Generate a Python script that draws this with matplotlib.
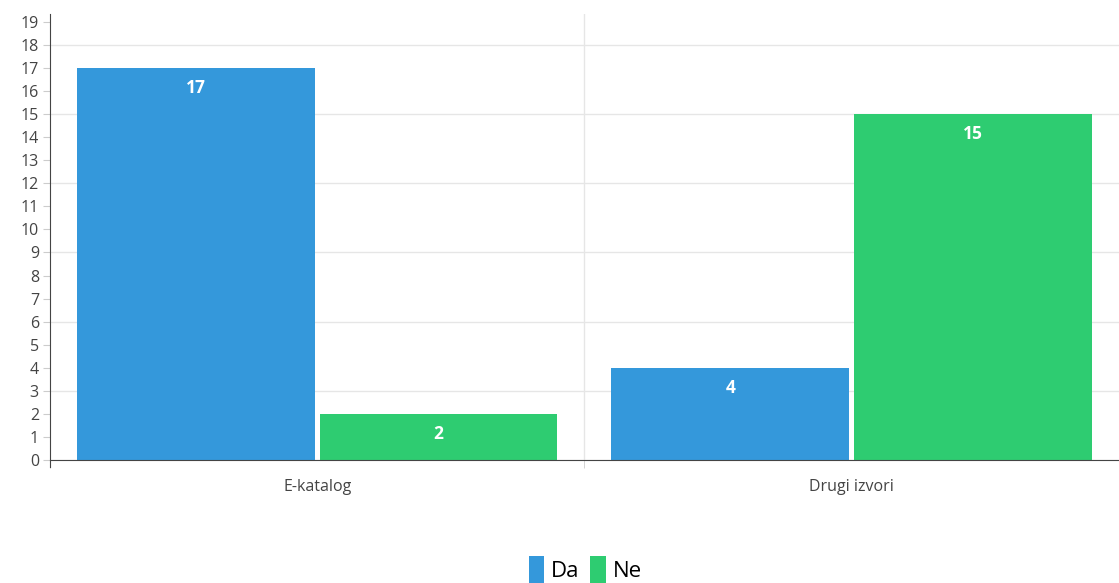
import matplotlib.pyplot as plt
import numpy as np

categories = ["E-katalog", "Drugi izvori"]
da_values = [17, 4]
ne_values = [2, 15]
series_names = ["Da", "Ne"]
y_ticks = list(range(0, 20))

plt.rcParams['font.family'] = ['Open Sans', 'DejaVu Sans']

fig = plt.figure(figsize=(11.19, 5.83), dpi=100)
ax = fig.add_axes([0.0447, 0.211, 0.955, 0.765])

x = np.arange(len(categories))
width = 0.445
offset = 0.227

bars_da = ax.bar(x - offset, da_values, width, color='#3498db',
                 label=series_names[0], zorder=2)
bars_ne = ax.bar(x + offset, ne_values, width, color='#2ecc71',
                 label=series_names[1], zorder=2)

# value labels inside bars
for bars in (bars_da, bars_ne):
    for b in bars:
        ax.annotate(f"{int(b.get_height())}",
                    (b.get_x() + b.get_width() / 2, b.get_height()),
                    xytext=(0, -14.5), textcoords='offset points',
                    ha='center', va='center', color='white',
                    fontsize=12.5, fontweight='bold', zorder=3)

ax.set_xlim(-0.5, 1.5)
ax.set_ylim(0, 19.34)
ax.set_yticks(y_ticks)
ax.set_yticklabels([str(t) for t in y_ticks])

# horizontal grid every 3
for gy in range(0, 20, 3):
    ax.axhline(gy, color='#e6e6e6', lw=1, zorder=1)
ax.axvline(0.5, color='#e6e6e6', lw=1, zorder=1)

ax.set_xticks(x)
ax.set_xticklabels(categories)
ax.set_xticks([-0.5, 0.5, 1.5], minor=True)
ax.tick_params(axis='x', which='major', length=0, labelsize=11.5, colors='#444444', pad=14)
ax.tick_params(axis='x', which='minor', length=6, color='#cccccc')
ax.tick_params(axis='y', length=5, color='#cccccc', labelsize=11.5, labelcolor='#444444', pad=3)

for side in ('top', 'right'):
    ax.spines[side].set_visible(False)
ax.spines['left'].set_color('#444444')
ax.spines['bottom'].set_color('#444444')
ax.spines['left'].set_bounds(-0.3, 19.34)

leg = fig.legend(loc='lower center', bbox_to_anchor=(0.523, -0.035), ncol=2, frameon=False,
                 fontsize=16, handlelength=0.7, handleheight=1.5, handletextpad=0.3,
                 columnspacing=0.5)

fig.savefig('out.png', dpi=100)
